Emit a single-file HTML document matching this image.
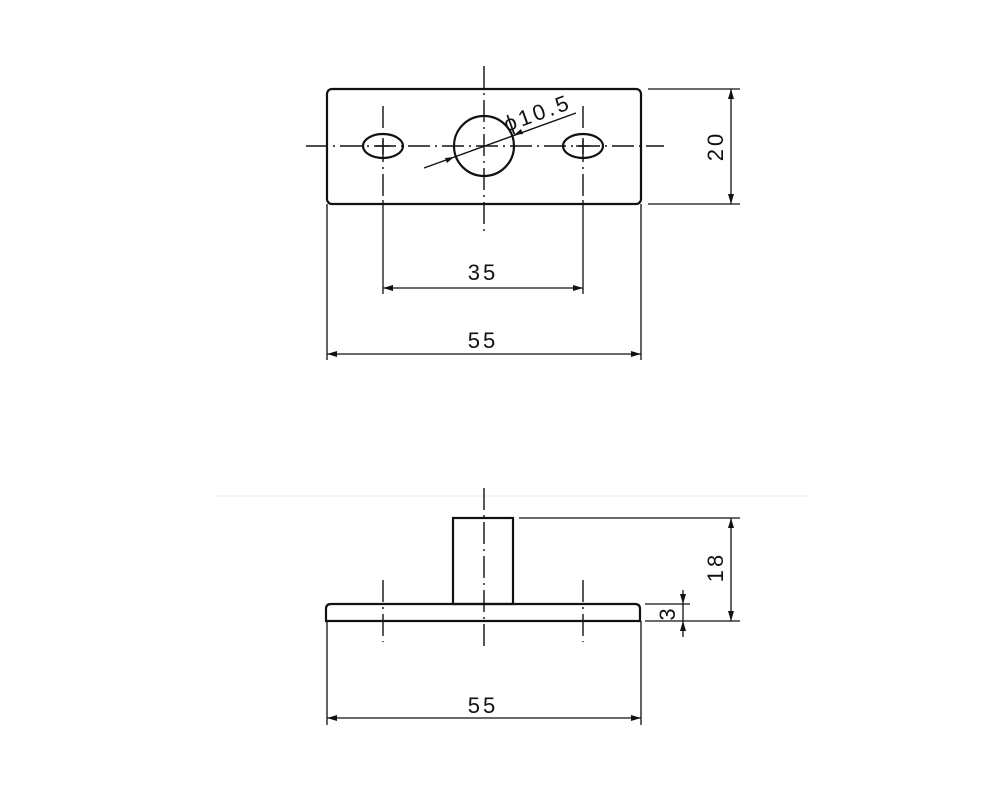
<!DOCTYPE html>
<html><head><style>body{margin:0;background:#fff}svg{display:block}</style></head>
<body>
<svg width="1000" height="800" viewBox="0 0 1000 800" xmlns="http://www.w3.org/2000/svg" font-family="Liberation Sans, sans-serif">
<g stroke="#111" fill="none">
<rect x="327" y="89" width="314" height="115" rx="5" stroke-width="2.2"/>
<circle cx="484" cy="146" r="30" stroke-width="2.2"/>
<ellipse cx="383" cy="146" rx="20" ry="12" stroke-width="2.2"/>
<ellipse cx="583" cy="146" rx="20" ry="12" stroke-width="2.2"/>
<g stroke-width="1.4" stroke-dasharray="22,5,2,5">
<line x1="306" y1="146" x2="664" y2="146"/>
<line x1="484" y1="66" x2="484" y2="232"/>
<line x1="383" y1="106" x2="383" y2="200"/>
<line x1="583" y1="106" x2="583" y2="200"/>
</g>
<line x1="376" y1="146" x2="390" y2="146" stroke-width="1.4"/>
<line x1="576" y1="146" x2="590" y2="146" stroke-width="1.4"/>
<line x1="383" y1="138" x2="383" y2="154" stroke-width="1.4"/>
<line x1="583" y1="138" x2="583" y2="154" stroke-width="1.4"/>
<line x1="424" y1="168" x2="576" y2="113" stroke-width="1.4"/>
<g stroke-width="1.3">
<line x1="648" y1="89" x2="740" y2="89"/>
<line x1="648" y1="204" x2="740" y2="204"/>
<line x1="731" y1="89" x2="731" y2="204"/>
<line x1="383" y1="200" x2="383" y2="294"/>
<line x1="583" y1="200" x2="583" y2="294"/>
<line x1="383" y1="288" x2="583" y2="288"/>
<line x1="327" y1="204" x2="327" y2="360"/>
<line x1="641" y1="204" x2="641" y2="360"/>
<line x1="327" y1="354" x2="641" y2="354"/>
</g>
<line x1="215" y1="496" x2="808" y2="496" stroke="#eee" stroke-width="1"/>
<rect x="453" y="518" width="60" height="86" stroke-width="2.2"/>
<path d="M326 621 L326 609 Q326 604 331 604 L635 604 Q640 604 640 609 L640 621 Z" stroke-width="2.2"/>
<g stroke-width="1.4" stroke-dasharray="22,5,2,5">
<line x1="484" y1="488" x2="484" y2="650"/>
<line x1="383" y1="580" x2="383" y2="642"/>
<line x1="583" y1="580" x2="583" y2="642"/>
</g>
<g stroke-width="1.3">
<line x1="519" y1="518" x2="740" y2="518"/>
<line x1="645" y1="621" x2="740" y2="621"/>
<line x1="731" y1="518" x2="731" y2="621"/>
<line x1="645" y1="604" x2="690" y2="604"/>
<line x1="683" y1="590" x2="683" y2="637"/>
<line x1="327" y1="621" x2="327" y2="725"/>
<line x1="641" y1="621" x2="641" y2="725"/>
<line x1="327" y1="718" x2="641" y2="718"/>
</g>
</g>
<g fill="#111">
<path d="M731 89 l-3 10 h6z M731 204 l-3 -10 h6z"/>
<path d="M383 288 l10 -3 v6z M583 288 l-10 -3 v6z"/>
<path d="M327 354 l10 -3 v6z M641 354 l-10 -3 v6z"/>
<path d="M731 518 l-3 10 h6z M731 621 l-3 -10 h6z"/>
<path d="M683 604 l-3 -10 h6z M683 621 l-3 10 h6z"/>
<path d="M327 718 l10 -3 v6z M641 718 l-10 -3 v6z"/>
<path d="M454 157 l-9 1 l2 5z M514 135 l9 -1 l-2 -5z"/>
</g>
<g fill="#111" font-size="22" text-anchor="middle" letter-spacing="3">
<text x="483" y="280">35</text>
<text x="483" y="348">55</text>
<text x="483" y="713">55</text>
<text transform="translate(723,146) rotate(-90)">20</text>
<text transform="translate(723,567) rotate(-90)">18</text>
<text transform="translate(675,613) rotate(-90)">3</text>
<text transform="translate(540,120) rotate(-20)">ϕ10.5</text>
</g>
</svg>
</body></html>
